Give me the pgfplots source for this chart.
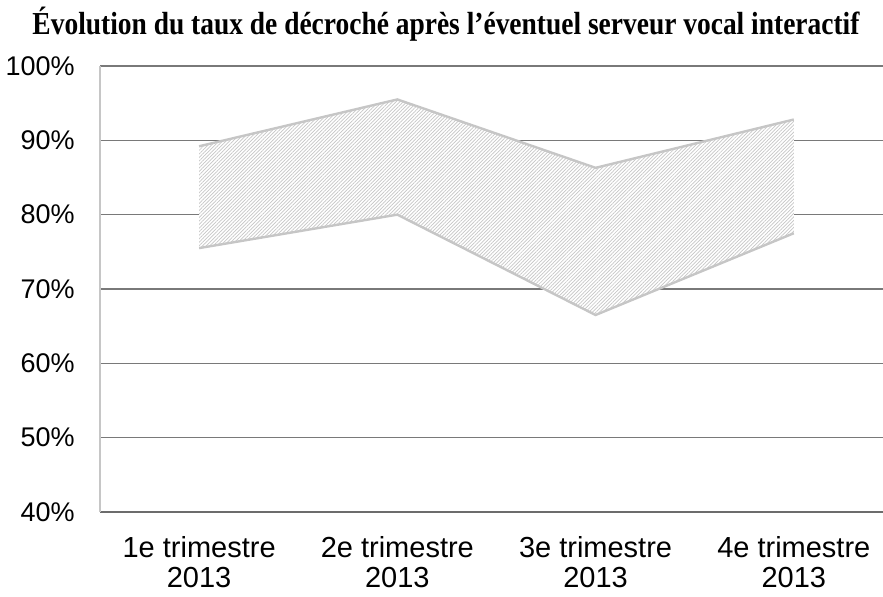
\documentclass[border=0pt]{standalone}
\usepackage{pgfplots}
\pgfplotsset{compat=1.18}
\usepgfplotslibrary{fillbetween}
\usetikzlibrary{patterns,patterns.meta,calc}
\usepackage{fontspec}
\setmainfont{Liberation Sans}
\newfontfamily\titlefont{Liberation Serif}
\usepackage{graphicx}

\begin{document}
\begin{tikzpicture}
\begin{axis}[scale only axis,width=391.5bp,height=223bp,
  xmin=0.5,xmax=4.45,ymin=40,ymax=100,
  xtick={1,2,3,4},
  xticklabels={1e trimestre\\2013,2e trimestre\\2013,3e trimestre\\2013,4e trimestre\\2013},
  ytick={40,50,...,100},
  yticklabels={40\%,50\%,60\%,70\%,80\%,90\%,100\%},
  major tick length=0pt,
  axis x line*=bottom,axis y line*=left,
  x axis line style={draw=gray!85!black,line width=1.2bp,-},
  y axis line style={draw=gray!45,line width=1bp,-},
  ymajorgrids,grid style={draw=gray!95!black,line width=0.7bp},
  yticklabel style={font=\fontsize{13.5bp}{15bp}\selectfont,inner sep=0pt,xshift=-12.5bp},
  xticklabel style={font=\fontsize{14.5bp}{15bp}\selectfont,align=center,inner sep=0pt,yshift=-12bp},
  clip=false]
\addplot[name path=up,draw=none] coordinates {(1,89.2) (2,95.5) (3,86.3) (4,92.8)};
\addplot[name path=lo,draw=none] coordinates {(1,75.5) (2,80.0) (3,66.5) (4,77.5)};
\addplot[draw=none,fill=white] fill between[of=up and lo];
\addplot[draw=none,pattern={Lines[angle=45,distance=1.25bp,line width=0.35bp]},pattern color=gray!45] fill between[of=up and lo];
\addplot[draw=gray!45,line width=1.2bp] coordinates {(1,89.2) (2,95.5) (3,86.3) (4,92.8)};
\addplot[draw=gray!45,line width=1.2bp] coordinates {(1,75.5) (2,80.0) (3,66.5) (4,77.5)};
\end{axis}
\node[anchor=base] at ($(current axis.north)+(-22.75bp,15.5bp)$)
  {\resizebox{413.5bp}{\height}{\titlefont\fontsize{16bp}{18bp}\selectfont\bfseries Évolution du taux de décroché après l’éventuel serveur vocal interactif}};
\pgfresetboundingbox
\path ($(current axis.south west)+(-50bp,-42.5bp)$) rectangle ($(current axis.north east)+(0bp,33bp)$);
\end{tikzpicture}
\end{document}
